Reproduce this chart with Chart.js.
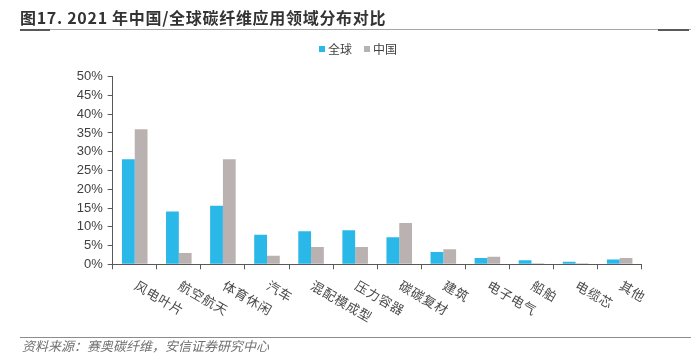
<!DOCTYPE html>
<html><head><meta charset="utf-8">
<script src="https://cdn.jsdelivr.net/npm/chart.js@4.4.0/dist/chart.umd.min.js"></script>
<style>html,body{margin:0;padding:0;background:#fff;overflow:hidden}#wrap{position:relative;width:691px;height:362px}</style>
</head><body><div id="wrap"><canvas id="c" width="691" height="362"></canvas></div>
<script>
const titleText = '图17. 2021 年中国/全球碳纤维应用领域分布对比';
const sourceText = '资料来源：赛奥碳纤维，安信证券研究中心';
const categories = ['风电叶片','航空航天','体育休闲','汽车','混配模成型','压力容器','碳碳复材','建筑','电子电气','船舶','电缆芯','其他'];
const seriesNames = ['全球','中国'];
const globalShare = [28, 14.1, 15.6, 7.9, 8.8, 9.1, 7.2, 3.3, 1.7, 1.1, 0.7, 1.3];
const chinaShare = [36, 3.0, 28, 2.3, 4.6, 4.6, 11, 4.0, 2.0, 0.3, 0.3, 1.7];
const yTicks = [0,5,10,15,20,25,30,35,40,45,50];
const yTickLabels = ['0%','5%','10%','15%','20%','25%','30%','35%','40%','45%','50%'];
const colors = ['#29b8e7','#bab2b0'];

const AXIS = '#595959';
const CJK = '"Noto Sans CJK SC","Noto Sans",sans-serif';

const decor = {
  id: 'decor',
  afterDraw(chart) {
    const ctx = chart.ctx;
    const xs = chart.scales.x;
    const area = chart.chartArea;
    ctx.save();
    // title
    ctx.fillStyle = '#333333';
    ctx.font = 'bold 16px ' + CJK;
    ctx.textAlign = 'left';
    ctx.textBaseline = 'middle';
    try { ctx.letterSpacing = '0.7px'; } catch (e) {}
    ctx.fillText(titleText, 20, 18);
    try { ctx.letterSpacing = '0px'; } catch (e) {}
    // title rule
    ctx.fillStyle = '#a6a6a6';
    ctx.fillRect(20, 29, 671, 1);
    ctx.fillStyle = '#595959';
    ctx.fillRect(20, 29, 30, 2);
    ctx.fillRect(658, 29, 31, 2);
    // legend
    ctx.font = '12px ' + CJK;
    let lx = 319;
    chart.data.datasets.forEach((ds, i) => {
      ctx.fillStyle = ds.backgroundColor;
      ctx.fillRect(lx, 46, 6, 6);
      ctx.fillStyle = '#404040';
      ctx.fillText(ds.label, lx + 9, 49);
      lx += 9 + ctx.measureText(ds.label).width + 12;
    });
    // x labels rotated
    ctx.font = '13px ' + CJK;
    ctx.fillStyle = '#4a4a4a';
    try { ctx.letterSpacing = '0.6px'; } catch (e) {}
    categories.forEach((c, i) => {
      const x = xs.getPixelForValue(i);
      ctx.save();
      ctx.translate(x + 1, area.bottom + 20);
      ctx.rotate(30 * Math.PI / 180);
      ctx.textAlign = 'left';
      ctx.textBaseline = 'middle';
      ctx.fillText(c, 0, 0);
      ctx.restore();
    });
    try { ctx.letterSpacing = '0px'; } catch (e) {}
    // source rule + text
    ctx.fillStyle = '#8c8c8c';
    ctx.fillRect(20, 337, 671, 1);
    ctx.fillStyle = '#707070';
    ctx.font = 'italic 13px ' + CJK;
    ctx.textAlign = 'left';
    ctx.textBaseline = 'middle';
    ctx.fillText(sourceText, 22, 346);
    ctx.restore();
  }
};

new Chart(document.getElementById('c'), {
  type: 'bar',
  data: {
    labels: categories,
    datasets: [
      { label: seriesNames[0], data: globalShare, backgroundColor: colors[0], borderWidth: 0 },
      { label: seriesNames[1], data: chinaShare, backgroundColor: colors[1], borderWidth: 0 }
    ]
  },
  options: {
    responsive: false,
    animation: false,
    devicePixelRatio: 1,
    layout: { padding: { left: 0, right: 49.3, top: 76.7, bottom: 0 } },
    plugins: { legend: { display: false }, tooltip: { enabled: false }, title: { display: false } },
    datasets: { bar: { barPercentage: 1, categoryPercentage: 0.58 } },
    scales: {
      x: {
        afterFit(s) { s.height = 362 - 264.3; },
        grid: { display: true, drawOnChartArea: false, drawTicks: true, tickLength: 5, color: AXIS, offset: true },
        border: { display: true, color: AXIS, width: 1 },
        ticks: { display: false }
      },
      y: {
        min: 0, max: 50,
        afterFit(s) { s.width = 112.7; },
        afterBuildTicks(s) { s.ticks = yTicks.map(v => ({ value: v })); },
        grid: { display: true, drawOnChartArea: false, drawTicks: true, tickLength: 5, color: AXIS },
        border: { display: true, color: AXIS, width: 1 },
        ticks: {
          padding: 5,
          color: '#404040',
          font: { family: '"Liberation Sans Narrow","Liberation Sans",Arial,sans-serif', size: 13 },
          callback: (v, i) => yTickLabels[i]
        }
      }
    }
  },
  plugins: [decor]
});
</script>
</body></html>
